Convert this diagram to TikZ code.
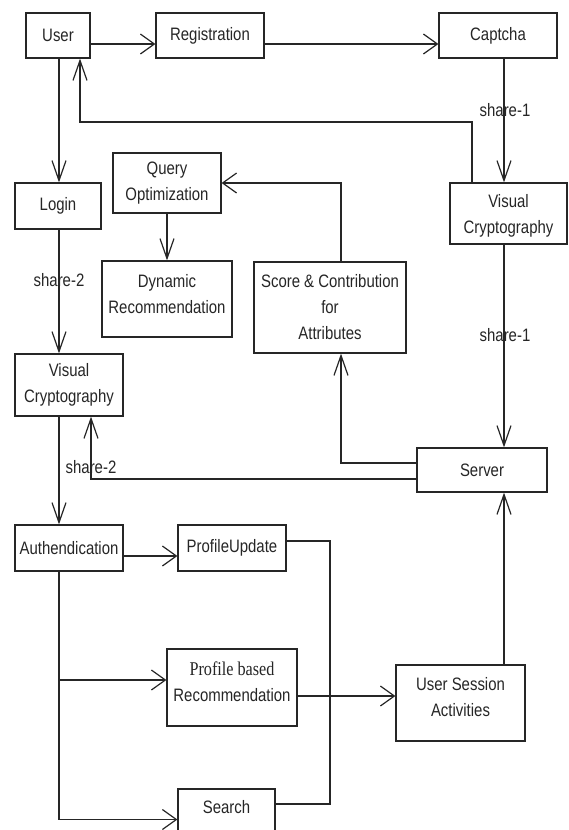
\documentclass[tikz,border=0pt]{standalone}
\usepackage{fontspec}
\setmainfont{Liberation Sans}[FakeStretch=0.83]
\newfontfamily\serifpb{Liberation Serif}[FakeStretch=0.83]
\usetikzlibrary{arrows.meta}
\begin{document}
\begin{tikzpicture}[x=1pt,y=-1pt,
  line width=1.2pt,
  every node/.style={font=\fontsize{18}{26}\selectfont, text=black!85},
  box/.style={draw=black!85, rectangle, inner sep=0pt, align=center},
  txt/.style={inner sep=0pt, align=center},
  lbl/.style={inner sep=0pt},
  conn/.style={draw=black!85},
  harr/.style={conn, -{Straight Barb[length=14pt,width=20pt,line width=1.2pt]}},
  varr/.style={conn, -{Straight Barb[length=20pt,width=14pt,line width=1.2pt]}}]
\clip (0,0) rectangle (568,830);
\fill[white] (0,0) rectangle (568,830);

% boxes
\node[box, minimum width=64pt,  minimum height=45pt] (user)   at (58,35.5)    {User};
\node[box, minimum width=108pt, minimum height=45pt] (reg)    at (210,35.5)   {Registration};
\node[box, minimum width=118pt, minimum height=45pt] (cap)    at (498,35.5)   {Captcha};
\node[box, minimum width=117pt, minimum height=61pt] (vc1)    at (508.5,213.5) {};
\node[txt] (vc1t) at (508.5,216) {Visual\\Cryptography};
\node[box, minimum width=86pt,  minimum height=46pt] (login)  at (58,206)     {Login};
\node[box, minimum width=108pt, minimum height=60pt] (qo)     at (167,183)    {Query\\Optimization};
\node[box, minimum width=130pt, minimum height=76pt] (dyn)    at (167,299)    {};
\node[txt] (dynt) at (167,294) {Dynamic\\Recommendation};
\node[box, minimum width=152pt, minimum height=91pt] (score)  at (330,307.5)  {Score \& Contribution\\for\\Attributes};
\node[box, minimum width=108pt, minimum height=62pt] (vc2)    at (69,385)     {Visual\\Cryptography};
\node[box, minimum width=130pt, minimum height=44pt] (server) at (482,470)    {Server};
\node[box, minimum width=108pt, minimum height=46pt] (auth)   at (69,548)     {Authendication};
\node[box, minimum width=108pt, minimum height=46pt] (pu)     at (232,548)    {ProfileUpdate};
\node[box, minimum width=130pt, minimum height=77pt] (pbr)    at (232,687.5)  {};
\node[txt] (pbrt) at (232,682) {{\serifpb\fontsize{19.5}{26}\selectfont Profile based}\\Recommendation};
\node[box, minimum width=129pt, minimum height=76pt] (usa)    at (460.5,703)  {};
\node[txt] (usat) at (460.5,697) {User Session\\Activities};
\node[box, minimum width=97pt,  minimum height=61pt] (search) at (226.5,819.5) {};
\node[txt] (searcht) at (226.5,807) {Search};

% labels
\node[lbl] (s1a) at (505,110) {share-1};
\node[lbl] (s1b) at (505,335) {share-1};
\node[lbl] (s2a) at (59,280)  {share-2};
\node[lbl] (s2b) at (91,467)  {share-2};

% coordinates
\coordinate (k1) at (80,122);
\coordinate (k2) at (330,804);

% connectors
\draw[harr] ([yshift=-8.5pt]user.east) -- ([yshift=-8.5pt]reg.west);
\draw[harr] ([yshift=-8.5pt]reg.east) -- ([yshift=-8.5pt]cap.west);
\draw[varr] ([xshift=6pt]cap.south) -- ([xshift=6pt]cap.south |- vc1.north);
\draw[varr] ([xshift=-36.5pt]vc1.north) |- (k1) -- (k1 |- user.south);
\draw[varr] ([xshift=1pt]user.south) -- ([xshift=1pt]user.south |- login.north);
\draw[varr] ([xshift=1pt]login.south) -- ([xshift=1pt]login.south |- vc2.north);
\draw[varr] ([xshift=-4.5pt]vc1.south) -- ([xshift=-4.5pt]vc1.south |- server.north);
\draw[varr] ([yshift=7pt]server.west) -| ([xshift=11pt]score.south);
\draw[harr] ([xshift=11pt]score.north) |- (qo.east);
\draw[varr] (qo.south) -- (dyn.north);
\draw[varr] ([yshift=-9pt]server.west) -| ([xshift=22pt]vc2.south);
\draw[varr] ([xshift=-10pt]vc2.south) -- ([xshift=-10pt]vc2.south |- auth.north);
\draw[harr] ([yshift=-8pt]auth.east) -- ([yshift=-8pt]pu.west);
\draw[conn] ([yshift=7pt]pu.east) -| (k2) -- (k2 -| search.east);
\draw[harr] ([xshift=-10pt]auth.south) |- ([yshift=7.5pt]pbr.west);
\draw[harr] ([xshift=-10pt]auth.south) |- (search.west);
\draw[harr] ([yshift=-8.5pt]pbr.east) -- ([yshift=-8.5pt]pbr.east -| usa.west);
\draw[varr] ([xshift=43.5pt]usa.north) -- ([xshift=43.5pt]usa.north |- server.south);
\end{tikzpicture}
\end{document}
